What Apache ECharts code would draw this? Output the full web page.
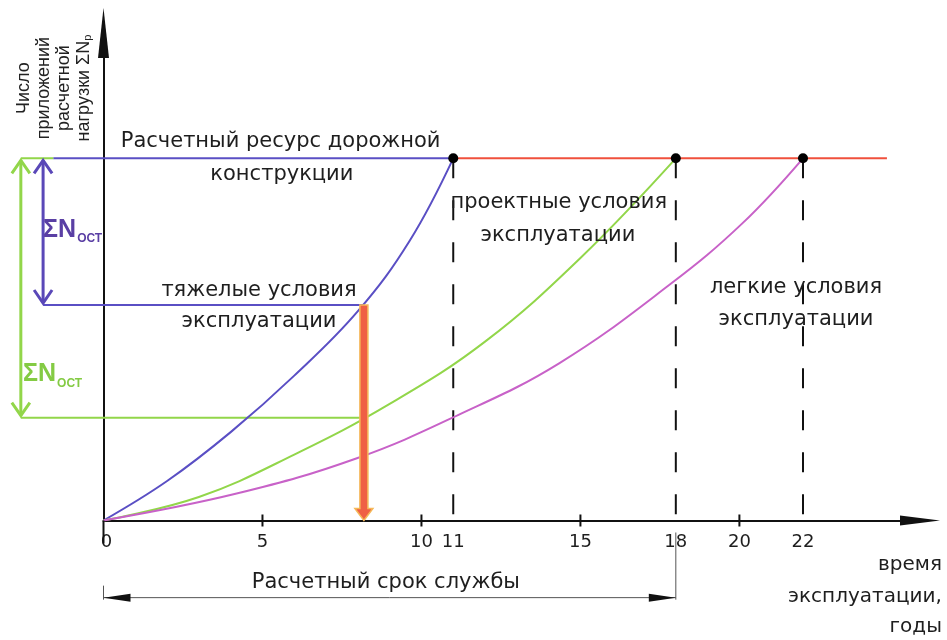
<!DOCTYPE html>
<html>
<head>
<meta charset="utf-8">
<script src="https://cdn.jsdelivr.net/npm/echarts@6/dist/echarts.min.js"></script>
<style>
  html, body { margin: 0; padding: 0; background: #fff; }
  #chart { width: 947px; height: 640px; }
</style>
</head>
<body>
<div id="chart"></div>
<script>
// подписи оси времени (годы)
var xLabels = [0, 5, 10, 11, 15, 18, 20, 22];
var xSmallTicks = [5, 10, 15, 20];

// кривые накопления нагрузки [год, ΣNp в % от расчетного ресурса]
var heavyCurve = [[0, 0], [2, 10.9], [4, 24.4], [6, 40.0], [8, 57.8], [9.64, 77.4], [11, 100]];
var designCurve = [[0, 0], [3, 6.5], [6, 18.2], [9, 32.2], [12, 49.4], [15, 72.5], [18, 100]];
var lightCurve = [[0, 0], [4.22, 7.5], [7.97, 17.2], [11.15, 29.1], [14.33, 43.4], [17.79, 65.0], [20.1, 82.1], [22, 100]];

// уровни
var resourceLevel = 100;
var heavyLevel = 59.5;
var designLevel = 28.4;
var checkYear = 8.19;
var serviceLife = 18;
var endYears = [11, 18, 22];
var resourceLineEnd = 24.64;

// выноски слева от оси (отрицательные годы)
var greenLeft = -2.6;
var purpleLeft = -1.9;
var topPurpleStart = -1.58;
var dimLineLevel = -21.3;

var BLUE = '#5a4fc4';
var GREEN = '#92d64a';
var MAGENTA = '#c862c8';
var RED = '#f0503c';
var TXT = '#1e1e1e';
var FONT = 'DejaVu Sans';

// горизонтальные линии [x1, x2, y, цвет]
var levelLines = [
  [endYears[0], resourceLineEnd, resourceLevel, RED],
  [topPurpleStart, endYears[0], resourceLevel, BLUE],
  [greenLeft, topPurpleStart, resourceLevel, GREEN],
  [purpleLeft, checkYear, heavyLevel, BLUE],
  [greenLeft, checkYear, designLevel, GREEN]
];

// подписи на поле графика [x, y, текст]
var notes = [
  [5.57, 104.5, 'Расчетный ресурс дорожной'],
  [5.61, 95.4, 'конструкции'],
  [4.89, 63.5, 'тяжелые условия'],
  [4.89, 54.8, 'эксплуатации'],
  [14.32, 87.7, 'проектные условия'],
  [14.29, 78.8, 'эксплуатации'],
  [21.78, 64.2, 'легкие условия'],
  [21.78, 55.4, 'эксплуатации'],
  [8.88, -17.0, 'Расчетный срок службы']
];

// название оси X (выравнивание вправо)
var xTitle = [
  [26.37, -12.3, 'время'],
  [26.37, -21.1, 'эксплуатации,'],
  [26.37, -29.4, 'годы']
];

var chart = echarts.init(document.getElementById('chart'));

function curve(data, color) {
  return {
    type: 'line', data: data, smooth: 0.4, symbol: 'none', silent: true,
    lineStyle: { color: color, width: 2 }, z: 3
  };
}

var series = [];
series.push(curve(heavyCurve, BLUE));
series.push(curve(designCurve, GREEN));
series.push(curve(lightCurve, MAGENTA));

// горизонтали (custom, чтобы выходить левее оси)
series.push({
  type: 'custom', clip: false, silent: true, z: 3,
  data: levelLines.map(function (l) { return [l[0], l[1], l[2]]; }),
  renderItem: function (params, api) {
    var a = api.coord([api.value(0), api.value(2)]);
    var b = api.coord([api.value(1), api.value(2)]);
    return {
      type: 'line', shape: { x1: a[0], y1: a[1], x2: b[0], y2: b[1] },
      style: { stroke: levelLines[params.dataIndex][3], lineWidth: 2 }
    };
  }
});

// штриховые вертикали
endYears.forEach(function (y) {
  series.push({
    type: 'line', data: [[y, resourceLevel], [y, 0]], symbol: 'none', silent: true,
    lineStyle: { color: '#111', width: 2, type: [20, 22] }, z: 2
  });
});

// точки
series.push({
  type: 'scatter', data: endYears.map(function (y) { return [y, resourceLevel]; }),
  symbolSize: 10, itemStyle: { color: '#000', opacity: 1 }, silent: true, z: 6
});

// красная стрелка
series.push({
  type: 'custom', clip: false, silent: true, z: 7,
  data: [[checkYear, heavyLevel, 0]],
  renderItem: function (params, api) {
    var top = api.coord([api.value(0), api.value(1)]);
    var bot = api.coord([api.value(0), api.value(2)]);
    var x = top[0];
    var s = 4, h = 9, hl = 12;
    return {
      type: 'polygon',
      shape: { points: [[x - s, top[1]], [x + s, top[1]], [x + s, bot[1] - hl], [x + h, bot[1] - hl], [x, bot[1]], [x - h, bot[1] - hl], [x - s, bot[1] - hl]] },
      style: { fill: '#ef5f45', stroke: '#f5b858', lineWidth: 1.5 }
    };
  }
});

// стрелки ΣNост
var ostArrows = [[purpleLeft, resourceLevel, heavyLevel], [greenLeft, resourceLevel, designLevel]];
var ostColors = ['#5a48b8', GREEN];
series.push({
  type: 'custom', clip: false, silent: true, z: 5,
  data: ostArrows,
  renderItem: function (params, api) {
    var t = api.coord([api.value(0), api.value(1)]);
    var b = api.coord([api.value(0), api.value(2)]);
    var c = ostColors[params.dataIndex];
    var x = t[0], w = 9, hh = 15;
    var st = { stroke: c, lineWidth: 3, fill: null };
    return {
      type: 'group', children: [
        { type: 'line', shape: { x1: x, y1: t[1] + 2, x2: x, y2: b[1] - 2 }, style: st },
        { type: 'polyline', shape: { points: [[x - w, t[1] + hh], [x, t[1] + 2], [x + w, t[1] + hh]] }, style: st },
        { type: 'polyline', shape: { points: [[x - w, b[1] - hh], [x, b[1] - 2], [x + w, b[1] - hh]] }, style: st }
      ]
    };
  }
});

// размерная линия срока службы и засечки оси
series.push({
  type: 'custom', clip: false, silent: true, z: 4,
  data: [[0, serviceLife, dimLineLevel]],
  renderItem: function (params, api) {
    var a = api.coord([api.value(0), api.value(2)]);
    var b = api.coord([api.value(1), api.value(2)]);
    var o = api.coord([0, 0]);
    var e = api.coord([api.value(1), 0]);
    var al = 27, ah = 4;
    var st = { stroke: '#555', lineWidth: 1, fill: null };
    var kids = [
      { type: 'line', shape: { x1: a[0], y1: a[1], x2: b[0], y2: b[1] }, style: st },
      { type: 'line', shape: { x1: e[0], y1: e[1] + 12, x2: b[0], y2: b[1] + 2 }, style: st },
      { type: 'line', shape: { x1: a[0], y1: a[1] - 12, x2: a[0], y2: a[1] + 2 }, style: st },
      { type: 'line', shape: { x1: o[0], y1: o[1], x2: o[0], y2: o[1] + 23 }, style: { stroke: '#111', lineWidth: 2 } },
      { type: 'polygon', shape: { points: [[a[0], a[1]], [a[0] + al, a[1] - ah], [a[0] + al, a[1] + ah]] }, style: { fill: '#111' } },
      { type: 'polygon', shape: { points: [[b[0], b[1]], [b[0] - al, b[1] - ah], [b[0] - al, b[1] + ah]] }, style: { fill: '#111' } }
    ];
    xSmallTicks.forEach(function (v) {
      var p = api.coord([v, 0]);
      kids.push({ type: 'line', shape: { x1: p[0], y1: p[1] - 6, x2: p[0], y2: p[1] + 6 }, style: { stroke: '#111', lineWidth: 2 } });
    });
    return { type: 'group', children: kids };
  }
});

// текстовые подписи
series.push({
  type: 'scatter', clip: false, silent: true, symbolSize: 0, z: 8,
  itemStyle: { opacity: 1 },
  data: notes.map(function (n) {
    return { value: [n[0], n[1]], name: n[2] };
  }),
  label: {
    show: true, position: 'inside', formatter: '{b}',
    color: TXT, fontFamily: FONT, fontSize: 21
  }
});

// название оси X
series.push({
  type: 'scatter', clip: false, silent: true, symbolSize: 0, z: 8,
  itemStyle: { opacity: 1 },
  data: xTitle.map(function (n) {
    return { value: [n[0], n[1]], name: n[2] };
  }),
  label: {
    show: true, position: 'inside', align: 'right', verticalAlign: 'middle', formatter: '{b}',
    color: TXT, fontFamily: FONT, fontSize: 20
  }
});

// ΣNост
series.push({
  type: 'scatter', clip: false, silent: true, symbolSize: 0, z: 8,
  data: [
    { value: [purpleLeft, 79.9], itemStyle: { color: '#5a3fa4', opacity: 1 } },
    { value: [greenLeft + 0.07, 39.9], itemStyle: { color: '#84cb44', opacity: 1 } }
  ],
  label: {
    show: true, position: 'right', distance: 0,
    formatter: '{a|ΣN}{b|ОСТ}',
    color: 'inherit',
    rich: {
      a: { fontSize: 25, fontWeight: 'bold', fontFamily: 'Liberation Sans', lineHeight: 28, verticalAlign: 'top' },
      b: { fontSize: 12, fontWeight: 'bold', fontFamily: 'Liberation Sans', lineHeight: 12, verticalAlign: 'bottom', padding: [0, 0, 0, 1] }
    }
  }
});

// заголовок оси Y
series.push({
  type: 'scatter', clip: false, silent: true, symbolSize: 0, z: 8,
  itemStyle: { opacity: 1 },
  data: [[-1.56, 119.4]],
  label: {
    show: true, position: 'inside', rotate: 90, align: 'center', verticalAlign: 'middle',
    formatter: 'Число\nприложений\nрасчетной\nнагрузки ΣN{s|p}',
    color: '#222', fontFamily: 'Liberation Sans', fontSize: 18, lineHeight: 20,
    rich: { s: { fontSize: 11, color: '#222', fontFamily: 'Liberation Sans', verticalAlign: 'bottom', lineHeight: 12 } }
  }
});

var option = {
  backgroundColor: '#fff',
  animation: false,
  grid: { left: 103.5, right: 27, top: 33, bottom: 119.5, outerBoundsMode: 'none' },
  xAxis: {
    type: 'value', min: 0, max: 25.68,
    axisLine: { show: true, onZero: false, symbol: ['none', 'triangle'], symbolSize: [10, 40], lineStyle: { color: '#111', width: 2 } },
    axisTick: { show: false },
    splitLine: { show: false },
    axisLabel: {
      customValues: xLabels, margin: 13, color: TXT, fontFamily: FONT, fontSize: 18,
      formatter: function (v) { return v === 0 ? ' 0' : String(v); }
    }
  },
  yAxis: {
    type: 'value', min: 0, max: 134.6,
    axisLine: { show: true, onZero: false, symbol: ['none', 'triangle'], symbolSize: [11, 50], lineStyle: { color: '#111', width: 2 } },
    axisTick: { show: false },
    axisLabel: { show: false },
    splitLine: { show: false }
  },
  series: series
};

chart.setOption(option);
</script>
</body>
</html>
